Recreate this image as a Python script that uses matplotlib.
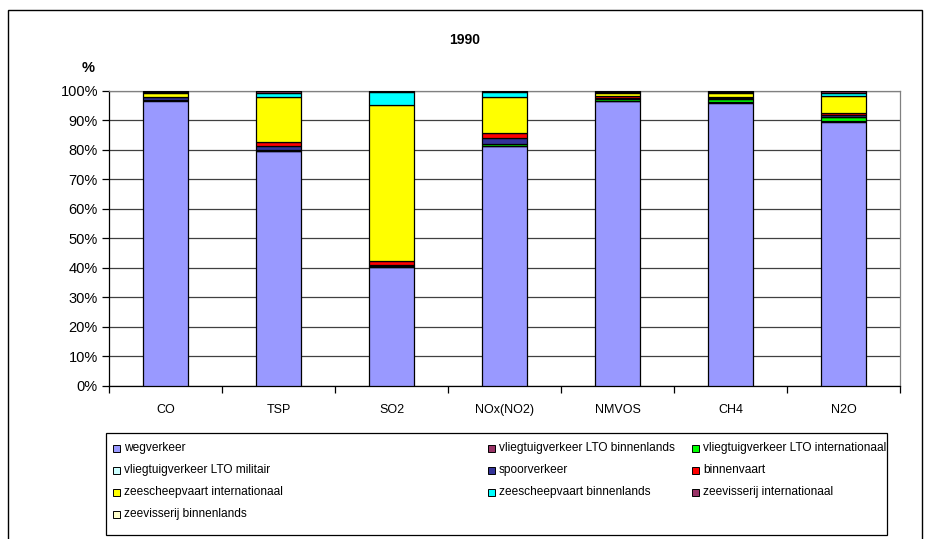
import matplotlib
matplotlib.use("Agg")
import matplotlib.pyplot as plt
from matplotlib.patches import Rectangle
import numpy as np

plt.rcParams['font.family'] = ['Liberation Sans', 'DejaVu Sans']

categories = ["CO", "TSP", "SO2", "NOx(NO2)", "NMVOS", "CH4", "N2O"]
series_names = [
    "wegverkeer",
    "vliegtuigverkeer LTO binnenlands",
    "vliegtuigverkeer LTO internationaal",
    "vliegtuigverkeer LTO militair",
    "spoorverkeer",
    "binnenvaart",
    "zeescheepvaart internationaal",
    "zeescheepvaart binnenlands",
    "zeevisserij internationaal",
    "zeevisserij binnenlands",
]
wegverkeer = [96.7, 79.5, 40.3, 81.2, 96.5, 96.0, 89.6]
vlieg_binnenlands = [0.1, 0.2, 0.1, 0.2, 0.1, 0.1, 0.2]
vlieg_internationaal = [0.2, 0.3, 0.1, 0.5, 0.7, 1.3, 1.3]
vlieg_militair = [0.05, 0.1, 0.05, 0.1, 0.05, 0.05, 0.1]
spoorverkeer = [0.8, 1.2, 0.5, 1.9, 0.4, 0.3, 0.6]
binnenvaart = [0.2, 1.3, 1.2, 2.0, 0.5, 0.3, 0.6]
zee_internationaal = [1.4, 15.5, 53.0, 12.2, 1.1, 1.4, 6.0]
zee_binnenlands = [0.2, 1.2, 4.5, 1.5, 0.2, 0.2, 0.9]
visserij_internationaal = [0.3, 0.6, 0.2, 0.3, 0.4, 0.3, 0.6]
visserij_binnenlands = [0.05, 0.1, 0.05, 0.1, 0.05, 0.05, 0.1]
colors = ["#9999FF", "#993366", "#00FF00", "#CCFFFF", "#333399",
          "#FF0000", "#FFFF00", "#00FFFF", "#993366", "#FFFFCC"]
yticklabels = ["0%", "10%", "20%", "30%", "40%", "50%", "60%", "70%", "80%", "90%", "100%"]

series = [wegverkeer, vlieg_binnenlands, vlieg_internationaal, vlieg_militair,
          spoorverkeer, binnenvaart, zee_internationaal, zee_binnenlands,
          visserij_internationaal, visserij_binnenlands]

W, H = 930, 539
fig = plt.figure(figsize=(W / 100, H / 100), dpi=100)

def fx(px):
    return px / W

def fy(py):
    return 1 - py / H

# outer chart border
fig.patches.append(Rectangle((fx(8), fy(545)), fx(922) - fx(8), fy(10) - fy(545),
                             transform=fig.transFigure, fill=False, ec="black", lw=1.0))

left, right, top, bottom = 109, 900, 91, 385.5
ax = fig.add_axes([fx(left), fy(bottom), fx(right) - fx(left), fy(top) - fy(bottom)])

arr = np.array(series, dtype=float)
tot = arr.sum(axis=0)
arr = arr / tot * 100.0
x = np.arange(len(categories))
base = np.zeros(len(categories))
for name, vals, c in zip(series_names, arr, colors):
    ax.bar(x, vals, bottom=base, width=0.4, color=c, edgecolor="black",
           linewidth=0.9, label=name, zorder=3)
    base += vals

ax.set_xlim(-0.5, len(categories) - 0.5)
ax.set_ylim(0, 100)
ax.set_yticks(np.arange(0, 101, 10))
ax.set_yticklabels(yticklabels, fontsize=10.5)
ax.yaxis.grid(True, color="#404040", lw=0.9, zorder=0)
ax.set_axisbelow(True)

ax.set_xticks(x)
ax.set_xticklabels(categories, fontsize=9)
ax.tick_params(axis="x", length=0, pad=13)
ax.set_xticks(np.arange(-0.5, len(categories), 1.0), minor=True)
ax.tick_params(axis="x", which="minor", length=5, width=0.9, direction="out")
ax.tick_params(axis="y", length=5, width=0.9, direction="out", pad=3)

for s in ["left", "bottom"]:
    ax.spines[s].set_color("black")
    ax.spines[s].set_linewidth(0.9)
for s in ["top", "right"]:
    ax.spines[s].set_color("#808080")
    ax.spines[s].set_linewidth(0.9)

fig.text(fx(465), fy(40), "1990", ha="center", va="center", fontsize=10, fontweight="bold")
fig.text(fx(88), fy(68), "%", ha="center", va="center", fontsize=10.5, fontweight="bold")

# legend (row-major, 3 columns)
lx0, ly0, lx1, ly1 = 106, 433, 887, 535
fig.patches.append(Rectangle((fx(lx0), fy(ly1)), fx(lx1) - fx(lx0), fy(ly0) - fy(ly1),
                             transform=fig.transFigure, fill=False, ec="black", lw=0.9))
col_x = [113, 488, 692]
row_y = [448, 470, 492, 514]
for i, (name, c) in enumerate(zip(series_names, colors)):
    r, k = divmod(i, 3)
    mx, my = col_x[k], row_y[r]
    fig.patches.append(Rectangle((fx(mx), fy(my + 3.5)), fx(7), 7 / H,
                                 transform=fig.transFigure, fc=c, ec="black", lw=0.7))
    fig.text(fx(mx + 11), fy(my), name, ha="left", va="center", fontsize=8.6)

fig.savefig("out.png", dpi=100)
